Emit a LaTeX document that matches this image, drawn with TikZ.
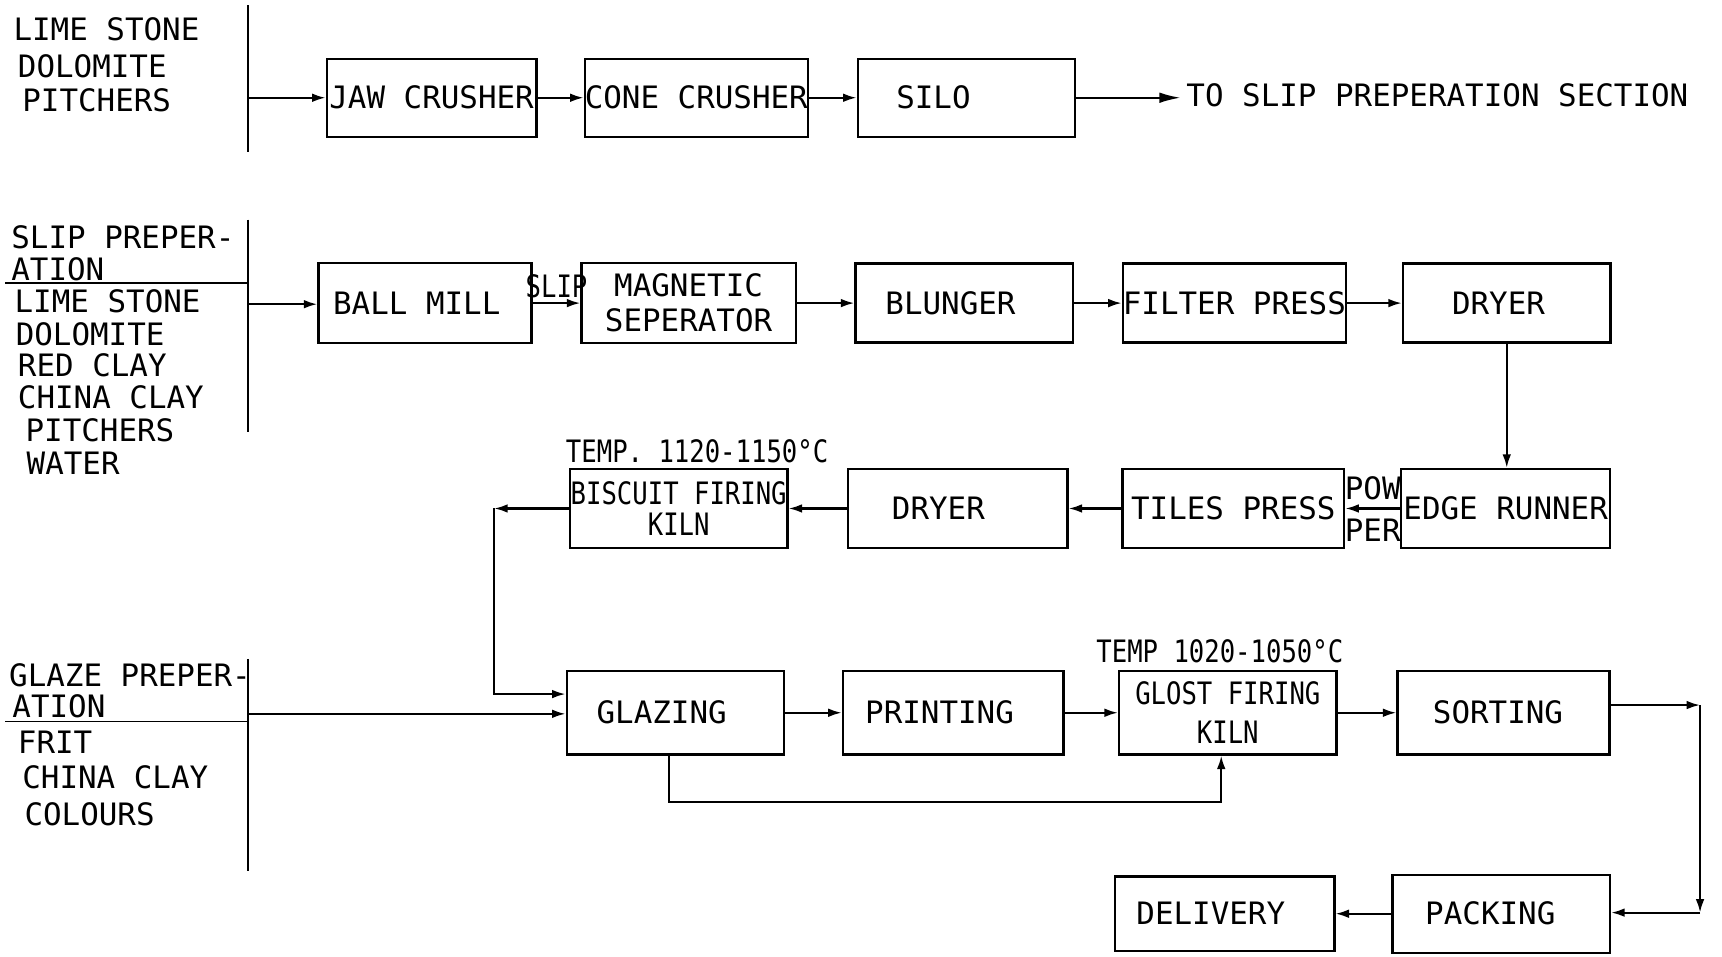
\documentclass[tikz,border=0pt]{standalone}
\usepackage{fontspec}
\setmainfont{DejaVu Sans Mono}
\newfontfamily\narrowfont{DejaVu Sans Mono}[FakeStretch=0.83]
\usetikzlibrary{arrows.meta}
\newcommand{\pxu}{0.02cm}

\tikzset{
  unit/.style={draw, line width=1.2pt, minimum width=198*\pxu, minimum height=72*\pxu,
    inner sep=0pt, align=center, font=\fontsize{16}{18}\selectfont},
  feed/.style={anchor=west, inner sep=0pt, font=\fontsize{16}{18}\selectfont},
  tag/.style={inner sep=0pt, font=\fontsize{16}{18}\selectfont},
  rule/.style={line width=1pt},
  flow/.style={line width=1.1pt, -{Latex[length=7pt,width=4.5pt]}},
}

\begin{document}
\begin{tikzpicture}[x=0.02cm, y=-0.02cm]
\path[fill=white, use as bounding box] (0,0) rectangle (1568,871);

% crushing section
\draw[rule] (226,5) -- (226,138);
\foreach \t/\x/\y [count=\i] in {LIME STONE/12/27, DOLOMITE/16/60, PITCHERS/20/91}
  \node[feed] (crf\i) at (\x,\y) {\t};
\node[unit, minimum width=191*\pxu, minimum height=71*\pxu] (jaw) at (393,89) {JAW CRUSHER};
\node[unit, minimum width=196*\pxu, minimum height=71*\pxu] (cone) at (634,89) {CONE CRUSHER};
\node[unit, minimum height=71*\pxu] (silo) at (880,89) {SILO\hspace*{12mm}};
\node[tag, anchor=west] (toslip) at (1080,87) {TO SLIP PREPERATION SECTION};
\coordinate (crin) at (226,89);
\coordinate (crout) at (1075,89);
\draw[flow] (crin) -- (jaw.west);
\draw[flow] (jaw.east) -- (cone.west);
\draw[flow] (cone.east) -- (silo.west);
\draw[flow, -{Latex[length=11pt,width=5.5pt]}] (silo.east) -- (crout);

% slip preperation
\draw[rule] (226,200) -- (226,393);
\draw[rule] (5,258) -- (226,258);
\foreach \t/\x/\y [count=\i] in {SLIP PREPER-/10/216, ATION/10/245, LIME STONE/13/274, DOLOMITE/14/304, RED CLAY/16/333, CHINA CLAY/16/362, PITCHERS/23/392, WATER/24/422}
  \node[feed] (spf\i) at (\x,\y) {\t};
\node[unit, minimum width=194*\pxu, minimum height=73*\pxu] (ballmill) at (387,276) {BALL MILL\hspace*{3mm}};
\node[unit, minimum width=195*\pxu, minimum height=73*\pxu] (magsep) at (627,276) {MAGNETIC\\SEPERATOR};
\node[unit] (blunger) at (878,276) {BLUNGER\hspace*{5mm}};
\node[unit, minimum width=201*\pxu] (filter) at (1124,276) {FILTER PRESS};
\node[unit, minimum width=189*\pxu] (dryerA) at (1372,276) {DRYER\hspace*{3mm}};
\coordinate (spin) at (226,277);
\draw[flow] (spin) -- (ballmill.west |- spin);
\draw[flow] (ballmill.east) -- node[tag, above=2pt, font=\narrowfont\fontsize{16}{18}\selectfont] (slip) {SLIP} (magsep.west);
\draw[flow] (magsep.east) -- (blunger.west);
\draw[flow] (blunger.east) -- (filter.west);
\draw[flow] (filter.east) -- (dryerA.west);

% pressing and biscuit firing
\node[unit, minimum width=190*\pxu] (edge) at (1371,463) {EDGE RUNNER};
\node[unit, minimum width=202*\pxu] (tiles) at (1123,463) {TILES PRESS};
\node[unit, minimum width=200*\pxu] (dryerB) at (872,463) {DRYER\hspace*{7mm}};
\node[unit, font=\narrowfont\fontsize{16}{16.5}\selectfont] (biscuit) at (618,463) {BISCUIT FIRING\\KILN};
\node[tag, anchor=west, font=\narrowfont\fontsize{16}{18}\selectfont] (tempA) at (515,411) {TEMP. 1120-1150°C};
\draw[flow] (dryerA.south) -- (dryerA.south |- edge.north);
\draw[flow] (edge.west) -- node[tag, above=4pt] (pow) {POW} node[tag, below=5pt] (per) {PER} (tiles.east);
\draw[flow] (tiles.west) -- (dryerB.east);
\draw[flow] (dryerB.west) -- (biscuit.east);

% glaze preperation
\draw[rule] (226,600) -- (226,793);
\draw[rule] (5,657) -- (226,657);
\foreach \t/\x/\y [count=\i] in {GLAZE PREPER-/8/615, ATION/11/643, FRIT/16/676, CHINA CLAY/20/708, COLOURS/22/741}
  \node[feed] (gpf\i) at (\x,\y) {\t};
\node[unit, minimum height=76*\pxu] (glazing) at (615,649) {GLAZING\hspace*{5mm}};
\node[unit, minimum width=201*\pxu, minimum height=76*\pxu] (printing) at (868,649) {PRINTING\hspace*{5mm}};
\node[unit, minimum height=76*\pxu, font=\narrowfont\fontsize{16}{20}\selectfont] (glost) at (1118,649) {GLOST FIRING\\KILN};
\node[unit, minimum width=193*\pxu, minimum height=76*\pxu] (sorting) at (1369,649) {SORTING\hspace*{2mm}};
\node[tag, anchor=west, font=\narrowfont\fontsize{16}{18}\selectfont] (tempB) at (998,593) {TEMP 1020-1050°C};
\coordinate (bl1) at (450,463);
\coordinate (bl2) at (450,632);
\draw[flow] (biscuit.west) -- (bl1);
\draw[flow] (bl1) -- (bl2) -- (glazing.west |- bl2);
\coordinate (gzin) at (226,650);
\draw[flow] (gzin) -- (glazing.west |- gzin);
\draw[flow] (glazing.east) -- (printing.west);
\draw[flow] (printing.east) -- (glost.west);
\draw[flow] (glost.east) -- (sorting.west);
\coordinate (gb1) at (609,730);
\coordinate (gb2) at (1112,730);
\draw[flow] (glazing.south -| gb1) -- (gb1) -- (gb2) -- (glost.south -| gb2);

% packing and delivery
\node[unit, minimum height=71*\pxu] (packing) at (1367,832) {PACKING\hspace*{4mm}};
\node[unit, minimum width=200*\pxu, minimum height=68*\pxu] (delivery) at (1115,832) {DELIVERY\hspace*{5mm}};
\coordinate (sp1) at (1548,642);
\coordinate (sp2) at (1548,831);
\draw[flow] (sorting.east |- sp1) -- (sp1);
\draw[flow] (sp1) -- (sp2);
\draw[flow] (sp2) -- (packing.east |- sp2);
\draw[flow] (packing.west) -- (delivery.east);
\end{tikzpicture}
\end{document}
